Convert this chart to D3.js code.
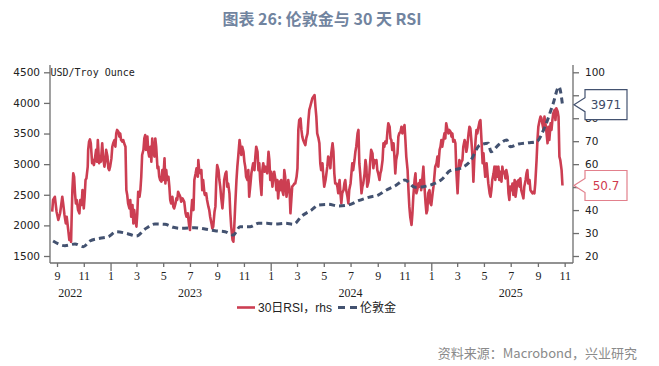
<!DOCTYPE html>
<html><head><meta charset="utf-8">
<script src="https://cdn.jsdelivr.net/npm/d3@7/dist/d3.min.js"></script>
<style>
html,body{margin:0;padding:0;background:#fff;}
svg{display:block;}
</style></head>
<body>
<svg id="chart" width="659" height="366"></svg>
<script>
// ---------- DATA (days counted from 2022-08-01) ----------
const rsiDays = [20,22,26,30,34,38,40,43,45,48,51,53,57,59,61,63,64,66,68,70,72,74,76,79,82,84,87,89,92,94,96,98,101,102,104,106,108,111,113,115,117,120,122,124,127,129,131,134,136,139,141,143,146,148,150,152,155,157,159,162,164,166,168,171,173,175,177,180,182,184,187,189,191,193,196,198,200,203,205,207,209,212,214,216,219,221,223,225,228,230,232,234,237,239,241,244,246,248,250,253,255,257,260,262,264,266,269,271,273,276,278,280,282,285,287,289,291,294,296,298,301,303,305,307,310,312,314,317,
321,324,326,329,332,334,336,339,342,344,347,349,352,353,355,358,360,362,364,367,368,371,373,376,378,380,383,385,387,390,392,394,396,399,401,403,405,408,410,412,415,417,419,421,424,426,428,431,433,435,437,440,442,444,447,449,451,453,456,458,460,462,465,467,469,472,474,476,478,481,483,485,488,490,492,494,497,499,501,504,506,508,510,513,515,517,519,522,524,526,529,531,533,535,538,540,542,545,547,549,551,554,556,558,561,563,565,567,570,572,574,577,579,581,583,586,588,590,592,595,597,599,602,604,606,608,611,613,
618,620,622,624,627,629,631,633,636,638,640,643,645,647,649,652,654,656,659,661,663,665,668,670,672,675,677,679,681,684,686,688,690,693,695,697,700,702,704,706,709,711,713,716,718,720,722,725,727,729,732,734,736,738,741,743,745,747,750,752,754,757,759,761,763,766,768,770,773,775,777,779,782,784,786,789,791,793,795,798,800,802,804,807,809,811,814,816,818,820,823,825,827,830,832,834,836,839,841,843,846,848,850,852,855,857,859,861,864,866,868,871,873,875,877,880,882,884,887,889,891,893,896,898,900,903,905,907,909,
914,916,918,921,923,925,928,930,932,934,937,939,941,944,946,948,950,953,955,957,960,962,964,966,969,971,973,975,978,980,982,985,987,989,991,994,996,998,1001,1003,1005,1007,1010,1012,1014,1017,1019,1021,1023,1026,1028,1030,1032,1035,1037,1039,1042,1044,1046,1048,1051,1053,1055,1058,1060,1062,1064,1067,1069,1071,1074,1076,1078,1080,1083,1085,1087,1089,1092,1094,1096,1099,1101,1103,1105,1108,1110,1112,1115,1117,1119,1121,1124,1126,1128,1131,1133,1135,1137,1140,1142,1144,1146,1149,1151,1153,1156,1158,1160,1162,1165,1167,1169,1172,1174,1176,1178,1181,1183];
const rsiValues = [39.3,44.4,45.8,39.3,35.7,38.6,41.5,45.8,42.9,37.9,34.2,37.1,30.6,27.0,29.9,26.2,34.2,48.7,56.0,54.5,47.3,42.9,44.4,40.0,38.6,44.4,42.2,48.7,40.7,45.8,53.1,53.8,58.9,66.2,69.8,70.8,69.1,60.4,61.8,59.6,61.8,66.2,61.1,70.5,60.4,63.3,61.1,69.1,63.3,58.9,61.1,66.2,63.3,58.2,57.4,58.9,62.5,67.6,69.1,70.5,67.6,73.4,74.9,74.1,72.0,73.4,70.5,69.8,70.5,69.1,67.6,48.7,46.6,42.9,40.7,44.4,37.1,42.2,34.2,40.0,36.4,32.8,38.6,48.0,45.8,48.7,54.5,64.0,66.2,71.2,72.7,66.2,72.0,65.4,63.3,67.6,61.1,71.2,66.2,63.3,71.2,67.6,58.2,58.9,54.5,53.1,52.4,57.4,53.1,62.5,51.6,57.4,53.1,54.5,50.2,44.4,42.9,45.8,41.5,40.7,42.9,45.1,44.4,48.0,46.6,45.8,43.6,45.1,
43.6,38.6,37.1,38.6,33.5,31.3,37.1,44.4,40.0,53.1,56.0,58.2,54.5,61.8,57.4,56.0,57.4,48.7,53.1,47.3,46.6,47.3,44.4,41.5,40.0,37.1,34.2,32.0,32.8,39.3,41.5,53.1,59.6,57.4,53.1,50.2,45.8,40.7,45.8,53.1,56.0,56.7,50.2,51.6,47.3,38.6,32.8,27.0,26.2,32.8,41.5,53.1,58.9,63.3,70.5,67.6,64.0,67.6,65.4,61.1,58.9,54.5,53.1,57.4,45.8,51.6,56.0,58.2,60.4,57.4,63.3,67.6,65.4,57.4,60.4,53.1,46.6,57.4,60.4,56.7,58.9,58.2,56.0,65.4,61.8,53.1,56.7,50.2,54.5,56.7,53.1,48.7,53.1,45.1,52.4,48.7,53.1,48.0,46.6,57.4,54.5,45.8,48.7,53.1,48.7,38.6,44.4,50.2,50.9,51.6,51.6,54.5,58.2,74.9,79.2,79.9,74.9,72.0,70.5,69.1,68.3,71.2,73.4,79.2,83.6,85.0,87.2,88.7,
90.1,85.0,80.7,73.4,71.2,69.1,60.4,57.4,60.4,54.5,50.2,53.1,56.0,58.9,63.3,61.8,58.2,64.7,69.1,65.4,56.0,51.6,51.6,50.2,47.3,53.1,47.3,42.9,47.3,48.7,51.6,53.1,48.7,45.8,42.9,48.7,51.6,56.0,60.4,57.4,61.8,65.4,67.6,73.4,74.9,60.4,56.0,47.3,50.2,51.6,56.0,61.8,58.9,50.2,52.4,56.0,61.8,66.2,64.7,58.2,61.8,60.4,61.8,57.4,56.0,53.1,56.0,57.4,61.8,69.1,67.6,69.8,69.1,74.1,77.8,76.3,71.2,70.5,66.2,69.1,63.3,56.0,61.8,64.7,72.0,73.4,74.1,76.3,73.4,74.9,77.0,70.5,63.3,57.4,48.7,41.5,37.1,33.5,38.6,45.8,53.1,56.0,47.3,48.7,51.6,50.2,53.1,48.7,54.5,58.9,51.6,42.9,38.6,40.0,47.3,48.7,42.9,42.2,47.3,50.2,54.5,58.9,60.4,63.3,58.9,66.2,67.6,70.5,67.6,
73.4,71.2,77.8,74.9,73.4,74.9,74.1,72.0,73.4,69.8,70.5,69.1,57.4,47.3,56.0,61.8,58.9,61.1,61.8,67.6,70.5,69.1,65.4,67.6,73.4,76.3,75.6,71.2,63.3,52.4,61.8,70.5,74.9,73.4,75.6,78.5,79.2,72.0,60.4,64.7,58.9,54.5,60.4,56.0,51.6,47.3,45.8,48.7,53.1,56.0,58.9,53.1,58.9,54.5,58.9,53.1,56.7,52.4,58.9,56.0,56.7,53.8,57.4,54.5,47.3,44.4,50.2,48.7,51.6,46.6,53.1,45.8,48.7,52.4,53.1,50.2,53.8,48.7,46.6,45.1,50.2,53.1,56.0,57.4,51.6,53.1,48.7,48.0,47.3,48.0,47.3,51.6,61.8,70.5,76.3,79.2,80.7,80.0,77.8,74.9,80.7,77.8,74.9,69.1,76.3,70.5,77.8,74.9,79.2,82.1,83.6,79.2,84.3,82.9,80.7,63.3,61.8,57.4,50.7];

const goldDays   = [22,49,72,91,106,129,148,166,189,212,231,254,277,296,315,345,368,391,414,433,448,471,490,509,528,551,570,589,611,627,649,672,695,718,741,763,782,801,824,847,866,889,908,927,950,972,995,1014,1020,1037,1056,1064,1083,1105,1124,1143,1162,1175,1183];
const goldValues = [1745,1668,1696,1652,1745,1789,1815,1897,1870,1827,1936,2023,2018,1969,1952,1962,1941,1913,1897,1843,1979,1979,2034,2034,2023,2034,2018,2153,2251,2333,2344,2317,2333,2403,2458,2496,2578,2643,2741,2622,2632,2676,2752,2893,2932,3040,3313,3340,3203,3313,3394,3285,3329,3350,3367,3612,3994,4265,3971];

const leftTicks  = [1500,2000,2500,3000,3500,4000,4500];
const rightTicks = [20,30,40,50,60,70,80,90,100];
const yearLabels = ["2022","2023","2024","2025"];
const yearLabelDates = ["2022-10-01","2023-07-01","2024-07-01","2025-07-01"];
const lastGold = 3971, lastRsi = 50.7;

const titleText  = "图表 26: 伦敦金与 30 天 RSI";
const unitText   = "USD/Troy Ounce";
const legendRsi  = "30日RSI，rhs";
const legendGold = "伦敦金";
const sourceText = "资料来源：Macrobond，兴业研究";

// ---------- DRAW ----------
const RED = "#CC3E52", NAVY = "#435270", AXIS = "#6e6e6e";
const svg = d3.select("#chart");
const base = new Date(2022,7,1);
const dayToDate = d => d3.timeDay.offset(base, d);
const parse = d3.timeParse("%Y-%m-%d");

const x  = d3.scaleTime().domain([new Date(2022,7,16), new Date(2025,10,20)]).range([50, 573]);
const yL = d3.scaleLinear().domain([1500,4500]).range([256,72.3]);
const yR = d3.scaleLinear().domain([20,100]).range([256,72.3]);

// title
svg.append("text").attr("x",322).attr("y",25).attr("text-anchor","middle")
  .attr("font-family","'Noto Sans CJK SC','Noto Sans',sans-serif").attr("font-weight","bold")
  .attr("font-size",16).attr("fill","#71849F").text(titleText);

// frame lines
const frame = svg.append("g").attr("stroke",AXIS).attr("stroke-width",1.3).attr("fill","none");
frame.append("line").attr("x1",50).attr("x2",50).attr("y1",65).attr("y2",263);
frame.append("line").attr("x1",573).attr("x2",573).attr("y1",65).attr("y2",263);
frame.append("line").attr("x1",50).attr("x2",573).attr("y1",263).attr("y2",263);

// left axis
const gL = svg.append("g").attr("transform","translate(50,0)")
  .call(d3.axisLeft(yL).tickValues(leftTicks).tickSize(6).tickPadding(4).tickFormat(d3.format("d")));
gL.select(".domain").remove();
gL.selectAll("line").attr("stroke",AXIS).attr("stroke-width",1.3);
gL.selectAll("text").attr("font-family","'DejaVu Sans',sans-serif").attr("font-size",10.5).attr("fill","#222");

// right axis (labels hidden behind the value callouts are left out)
const covered = v => Math.abs(yR(v) - yL(lastGold)) < 12 || Math.abs(yR(v) - yR(lastRsi)) < 12;
const gR = svg.append("g").attr("transform","translate(573,0)")
  .call(d3.axisRight(yR).tickValues(rightTicks).tickSize(6).tickPadding(6)
    .tickFormat(v => covered(v) ? "" : d3.format("d")(v)));
gR.select(".domain").remove();
gR.selectAll("line").attr("stroke",AXIS).attr("stroke-width",1.3);
gR.selectAll("text").attr("font-family","'DejaVu Sans',sans-serif").attr("font-size",10.5).attr("fill","#222");

// bottom axis
const monthTicks = d3.timeMonth.range(new Date(2022,8,1), new Date(2025,11,1), 2);
const gX = svg.append("g").attr("transform","translate(0,263)")
  .call(d3.axisBottom(x).tickValues(monthTicks).tickSize(4).tickPadding(5).tickFormat(d => d.getMonth()+1));
gX.select(".domain").remove();
gX.selectAll("line").attr("stroke",AXIS).attr("stroke-width",1.3)
  .attr("y2", d => d.getMonth()===0 ? 8 : 4);
gX.selectAll("text").attr("font-family","'Liberation Serif',serif").attr("font-size",12).attr("fill","#222")
  .attr("y",8).attr("dy","0.71em");

svg.append("g").selectAll("text").data(yearLabels).join("text")
  .attr("x",(d,i)=>x(parse(yearLabelDates[i]))).attr("y",297).attr("text-anchor","middle")
  .attr("font-family","'Liberation Serif',serif").attr("font-size",12).attr("fill","#222").text(d=>d);

// unit label
svg.append("text").attr("x",50.5).attr("y",76).attr("font-family","'DejaVu Sans Mono',monospace")
  .attr("font-size",10).attr("fill","#222").text(unitText);

// series
const rsiData  = rsiDays.map((d,i)=>({date:dayToDate(d), v:rsiValues[i]}));
const goldData = goldDays.map((d,i)=>({date:dayToDate(d), v:goldValues[i]}));

svg.append("path").datum(rsiData)
  .attr("fill","none").attr("stroke",RED).attr("stroke-width",2.6).attr("stroke-linejoin","round")
  .attr("d", d3.line().x(d=>x(d.date)).y(d=>yR(d.v)));

svg.append("path").datum(goldData)
  .attr("fill","none").attr("stroke",NAVY).attr("stroke-width",3).attr("stroke-dasharray","6,4")
  .attr("d", d3.line().curve(d3.curveMonotoneX).x(d=>x(d.date)).y(d=>yL(d.v)));

// value callouts
function callout(yv, text, stroke, color){
  const g = svg.append("g");
  const bx = 585, bw = 42, bh = 30, top = yv - 15;
  g.append("path")
    .attr("d", `M${bx},${top} H${bx+bw} V${top+bh} H${bx} V${yv+7} L574,${yv} L${bx},${yv-7} Z`)
    .attr("fill","#fff").attr("stroke",stroke).attr("stroke-width",1.2);
  g.append("text").attr("x",bx+bw/2).attr("y",yv).attr("dy","0.36em").attr("text-anchor","middle")
    .attr("font-family","'DejaVu Sans',sans-serif").attr("font-size",12).attr("fill",color).text(text);
}
callout(yL(lastGold), String(lastGold), NAVY, "#3d4a66");
callout(yR(lastRsi), String(lastRsi), "#E2808C", "#D0394E");

// legend
const lg = svg.append("g").attr("font-family","'Liberation Sans','Noto Sans CJK SC',sans-serif").attr("font-size",12).attr("fill","#222");
lg.append("line").attr("x1",237).attr("x2",255).attr("y1",307.5).attr("y2",307.5).attr("stroke",RED).attr("stroke-width",2.6);
lg.append("text").attr("x",258).attr("y",312).text(legendRsi);
lg.append("line").attr("x1",338).attr("x2",357).attr("y1",307.5).attr("y2",307.5).attr("stroke",NAVY).attr("stroke-width",3).attr("stroke-dasharray","7,5");
lg.append("text").attr("x",360).attr("y",312).text(legendGold);

// source
svg.append("text").attr("x",637).attr("y",358).attr("text-anchor","end")
  .attr("font-family","'Noto Sans CJK SC','Noto Sans',sans-serif").attr("font-size",13).attr("fill","#8a8a8a").text(sourceText);
</script>
</body></html>
